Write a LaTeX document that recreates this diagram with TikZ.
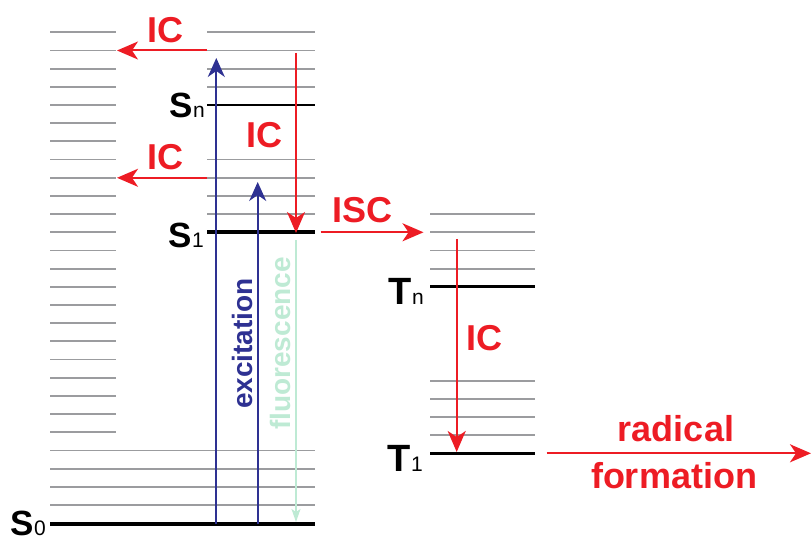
\documentclass[tikz,border=0pt]{standalone}
\usepackage{fontspec}
\setmainfont{Liberation Sans}
\usetikzlibrary{arrows.meta}
\definecolor{icred}{RGB}{237,28,36}
\definecolor{excblue}{RGB}{46,49,146}
\definecolor{flgreen}{RGB}{190,234,212}
\definecolor{lvgray}{RGB}{155,156,159}
\newcommand\lvsub[1]{{\fontsize{21}{24}\selectfont\mdseries #1}}
\begin{document}
\begin{tikzpicture}[x=1pt,y=-1pt,
  graylevel/.style={draw=lvgray,line width=1.8pt},
  blacklevel/.style={draw=black,line width=#1},
  redarrow/.style={draw=icred,line width=2pt,-{Stealth[length=21pt,width=18pt,inset=6pt]}},
  bluearrow/.style={draw=excblue,line width=2pt,-{Stealth[length=19pt,width=17pt,inset=6pt]}},
  greenarrow/.style={draw=flgreen,line width=1.2pt,-{Stealth[length=13pt,width=9pt,inset=3pt]}},
  redlabel/.style={font=\fontsize{36}{40}\selectfont\bfseries,text=icred,inner sep=0pt,anchor=base},
  slabel/.style={font=\fontsize{35}{40}\selectfont\bfseries,inner sep=0pt,anchor=base east},
  tlabel/.style={font=\fontsize{38}{40}\selectfont\bfseries,inner sep=0pt,anchor=base east},
  vlabel/.style={font=\fontsize{28}{30}\selectfont\bfseries,inner sep=0pt,anchor=base,rotate=90}]
\useasboundingbox (0,0) rectangle (811,537);
% singlet manifold: left column
\foreach \k in {0,...,22} \draw[graylevel] (50,32.3+18.18*\k) -- (116,32.3+18.18*\k);
% right column of singlets
\foreach \k in {0,1,2,3,7,8,9,10} \draw[graylevel] (207,32.3+18.18*\k) -- (315,32.3+18.18*\k);
% vibrational levels of S0
\foreach \k in {23,24,25,26} \draw[graylevel] (50,32.3+18.18*\k) -- (315,32.3+18.18*\k);
% triplets
\foreach \y in {214,232.3,250.5,268.7,380.7,399,417,435.3} \draw[graylevel] (430,\y) -- (535,\y);
% electronic levels
\draw[blacklevel=2pt] (207,105) -- (315,105);
\draw[blacklevel=4pt] (207,232.3) -- (315,232.3);
\draw[blacklevel=4.5pt] (50,524) -- (315,524);
\draw[blacklevel=3.5pt] (430,286.7) -- (535,286.7);
\draw[blacklevel=3.5pt] (430,453.3) -- (535,453.3);
% level labels
\node[slabel] (sn) at (205,118) {S\lvsub{n}};
\node[slabel] (s1) at (204,248) {S\lvsub{1}};
\node[slabel] (s0) at (46,535) {S\lvsub{0}};
\node[tlabel] (tn) at (424,305) {T\lvsub{n}};
\node[tlabel] (t1) at (423,471) {T\lvsub{1}};
% arrow end points
\coordinate (ica) at (207,50.5);  \coordinate (icb) at (117,50.5);
\coordinate (icc) at (207,177.8); \coordinate (icd) at (117,177.8);
\coordinate (exa) at (216.3,524); \coordinate (exb) at (216.3,58);
\coordinate (exc) at (257.7,524); \coordinate (exd) at (257.7,182);
\coordinate (ice) at (296,53);    \coordinate (icf) at (296,233);
\coordinate (fla) at (296,240);   \coordinate (flb) at (296,522);
\coordinate (isa) at (320.7,232.3); \coordinate (isb) at (423.5,232.3);
\coordinate (ica2) at (456.7,239); \coordinate (icb2) at (456.7,452);
\coordinate (rfa) at (546.7,453.3); \coordinate (rfb) at (811,453.3);
% arrows
\draw[greenarrow] (fla) -- (flb);
\draw[bluearrow] (exa) -- (exb);
\draw[bluearrow] (exc) -- (exd);
\draw[redarrow] (ica) -- (icb);
\draw[redarrow] (icc) -- (icd);
\draw[redarrow] (ice) -- (icf);
\draw[redarrow] (isa) -- (isb);
\draw[redarrow] (ica2) -- (icb2);
\draw[redarrow] (rfa) -- (rfb);
% process labels
\node[redlabel] (lic1) at (165.5,42.7) {IC};
\node[redlabel] (lic2) at (165.5,170) {IC};
\node[redlabel] (lic3) at (264.5,147.7) {IC};
\node[redlabel] (lisc) at (362.5,223) {ISC};
\node[redlabel] (lic4) at (484,350) {IC};
\node[redlabel] (lrad) at (676,441.7) {radical};
\node[redlabel] (lfor) at (674,488) {formation};
\node[vlabel,text=excblue] (lexc) at (252,343.5) {excitation};
\node[vlabel,text=flgreen] (lflu) at (290.5,343.5) {fluorescence};
\end{tikzpicture}
\end{document}
